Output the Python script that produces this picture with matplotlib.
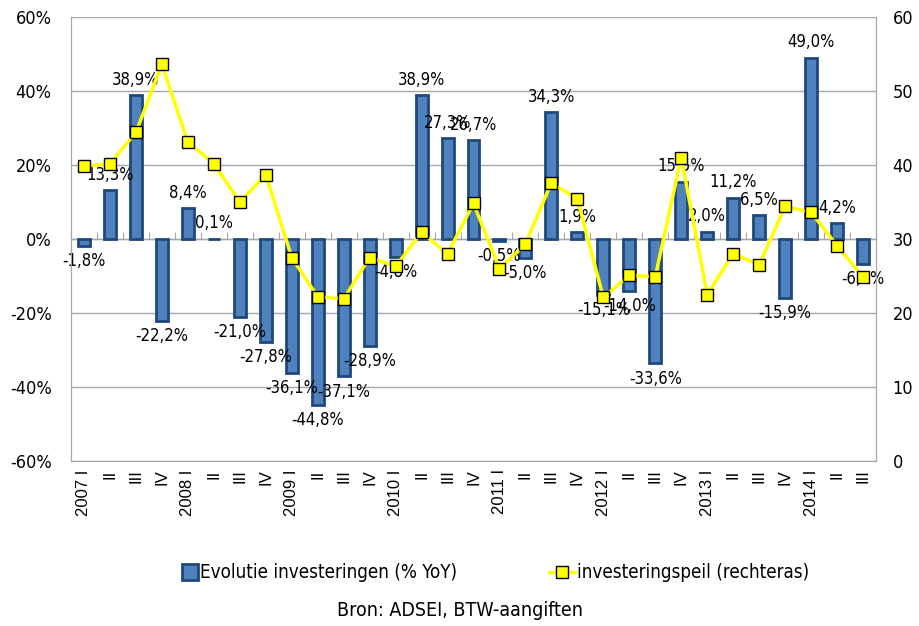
import matplotlib
matplotlib.use("Agg")
import matplotlib.pyplot as plt
import numpy as np
from matplotlib.patches import Patch, Rectangle
from matplotlib.lines import Line2D
from matplotlib.legend_handler import HandlerPatch

quarters = ["2007 I", "II", "III", "IV", "2008 I", "II", "III", "IV",
            "2009 I", "II", "III", "IV", "2010 I", "II", "III", "IV",
            "2011 I", "II", "III", "IV", "2012 I", "II", "III", "IV",
            "2013 I", "II", "III", "IV", "2014 I", "II", "III"]
evolutie = [-1.8, 13.3, 38.9, -22.2, 8.4, 0.1, -21.0, -27.8,
            -36.1, -44.8, -37.1, -28.9, -4.8, 38.9, 27.3, 26.7,
            -0.5, -5.0, 34.3, 1.9, -15.1, -14.0, -33.6, 15.5,
            2.0, 11.2, 6.5, -15.9, 49.0, 4.2, -6.8]
peil = [39.8, 40.2, 44.4, 53.6, 43.1, 40.2, 35.0, 38.7,
        27.5, 22.2, 21.9, 27.5, 26.3, 30.9, 28.0, 34.8,
        26.0, 29.3, 37.6, 35.4, 22.1, 25.1, 24.9, 41.0,
        22.5, 28.0, 26.5, 34.4, 33.6, 29.1, 24.9]
left_ticks = [-60, -40, -20, 0, 20, 40, 60]
right_ticks = [0, 10, 20, 30, 40, 50, 60]

NARROW = dict(fontfamily='DejaVu Sans', fontstretch='condensed')
REG = ['Liberation Sans', 'DejaVu Sans']
GRID = '#A6A6A6'

fig = plt.figure(figsize=(9.2, 6.26), dpi=100)
ax = fig.add_axes([71/920, 1-461/626, (876-71)/920, (461-17)/626])
x = np.arange(len(quarters))

ax.set_xlim(-0.5, len(quarters)-0.5)
ax.set_ylim(-60, 60)
ax.set_yticks(left_ticks)
ax.set_yticklabels([f"{t}%" for t in left_ticks], fontsize=13, **NARROW)
ax.yaxis.grid(True, color=GRID, lw=1)
ax.set_axisbelow(True)
ax.tick_params(axis='y', length=0, pad=14)
for s in ['left', 'right', 'bottom', 'top']:
    ax.spines[s].set_color(GRID)
ax.spines['top'].set_visible(False)

ax.bar(x, evolutie, width=0.46, color='#4F81BD', edgecolor='#1F497D', linewidth=2, zorder=2)

ax.set_xticks(x)
ax.set_xticklabels(quarters, rotation=90, fontfamily=REG, fontsize=12, va='top')
ax.tick_params(axis='x', length=0, pad=6)

sec = ax.secondary_xaxis(0.5)
sec.set_xticks(np.arange(len(quarters)+1)-0.5)
sec.set_xticklabels([])
sec.tick_params(axis='x', direction='out', length=5, color=GRID)
sec.spines['bottom'].set_color(GRID)

for xi, v in zip(x, evolutie):
    lab = f"{v:.1f}%".replace('.', ',')
    off = 11 if v >= 0 else -11
    ax.annotate(lab, (xi, v), xytext=(0, off), textcoords='offset points',
                ha='center', va='center', fontsize=12, zorder=5, **NARROW)

ax2 = ax.twinx()
ax2.set_ylim(0, 60)
ax2.set_yticks(right_ticks)
ax2.set_yticklabels([str(t) for t in right_ticks], fontsize=13, **NARROW)
ax2.tick_params(axis='y', length=0, pad=12)
for s in ['left', 'right', 'bottom', 'top']:
    ax2.spines[s].set_color(GRID)
ax2.spines['top'].set_visible(False)
ax2.plot(x, peil, color='#FFFF00', lw=2.5, marker='s', markersize=9,
         markerfacecolor='#FFFF00', markeredgecolor='black', markeredgewidth=1, zorder=4)


def small_box(legend, orig_handle, xdescent, ydescent, width, height, fontsize):
    w = width * 0.6
    return Rectangle((width - w - xdescent, -ydescent - 1), w, height + 2)


handles = [Patch(facecolor='#4F81BD', edgecolor='#1F497D', linewidth=2),
           Line2D([0], [0], color='#FFFF00', lw=2.5, marker='s', markersize=8,
                  markerfacecolor='#FFFF00', markeredgecolor='black')]
fig.legend(handles, ["Evolutie investeringen (% YoY)", "investeringspeil (rechteras)"],
           loc='center', bbox_to_anchor=(0.533, 1-573/626), ncol=2, frameon=False,
           prop={'family': 'DejaVu Sans', 'stretch': 'condensed', 'size': 13.5},
           columnspacing=4.9, handlelength=1.4, handletextpad=0.1,
           handler_map={Patch: HandlerPatch(patch_func=small_box)})
fig.text(0.5, 1-610/626, "Bron: ADSEI, BTW-aangiften", ha='center', va='center',
         fontsize=14, **NARROW)

fig.savefig("out.png", dpi=100)
